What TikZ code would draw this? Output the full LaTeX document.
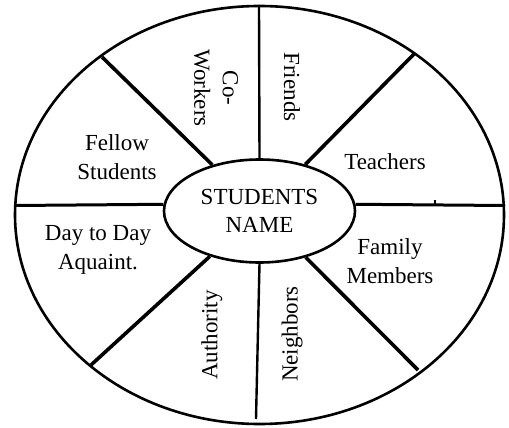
\documentclass[tikz,border=0pt]{standalone}
\usepackage{fontspec}
\setmainfont{Liberation Serif}
\usetikzlibrary{shapes.geometric}

\begin{document}
\begin{tikzpicture}[
  x=1pt, y=-1pt,
  font=\fontsize{23}{28.5}\selectfont,
  every node/.style={align=center, inner sep=0pt},
  hub/.style={draw, ellipse, line width=2.6pt,
              minimum width=191pt, minimum height=103pt},
  rim/.style={line width=2.6pt},
  vspoke/.style={line width=2.4pt},
  hspoke/.style={line width=3pt},
  dspoke/.style={line width=3.6pt},
  droptext/.style={rotate=-90},
  risetext/.style={rotate=90}
]
\useasboundingbox (0,0) rectangle (509,428);

% outer wheel
\draw[rim] (259.5,215) ellipse [x radius=244.5, y radius=209];
\node[hub] (stud) at (259.5,211) {STUDENTS\\NAME};

% where the spokes meet the rim
\coordinate (oN) at (259,6);
\coordinate (oS) at (256,419);
\coordinate (oW) at (15,205.5);
\coordinate (oE) at (505,205.5);
\coordinate (oNW) at (102,57);
\coordinate (oNE) at (415,53);
\coordinate (oSW) at (91,365);
\coordinate (oSE) at (418,370);
\coordinate (tick) at (435,205.5);

\draw[vspoke] (stud.north) -- (oN);
\draw[vspoke] (stud.south) -- (oS);
\draw[hspoke] (stud.176) -- (oW);
\draw[hspoke] (stud.4) -- (oE);
\draw[dspoke] (stud) -- (oNW);
\draw[dspoke] (stud) -- (oNE);
\draw[dspoke] (stud) -- (oSW);
\draw[dspoke] (stud) -- (oSE);
\draw[line width=2pt] (tick) -- ++(0,-6);

% sector labels
\node[droptext] (cowork) at (216,88) {Co-\\Workers};
\node[droptext] (friends) at (292,87) {Friends};
\node (teach) at (385,162) {Teachers};
\node (family) at (390,261) {Family\\Members};
\node[risetext] (neigh) at (292,334) {Neighbors};
\node[risetext] (auth) at (212,335) {Authority};
\node (acq) at (98,250) {Day to Day\\Aquaint.};
\node (fellow) at (117,157) {Fellow\\Students};
\end{tikzpicture}
\end{document}
